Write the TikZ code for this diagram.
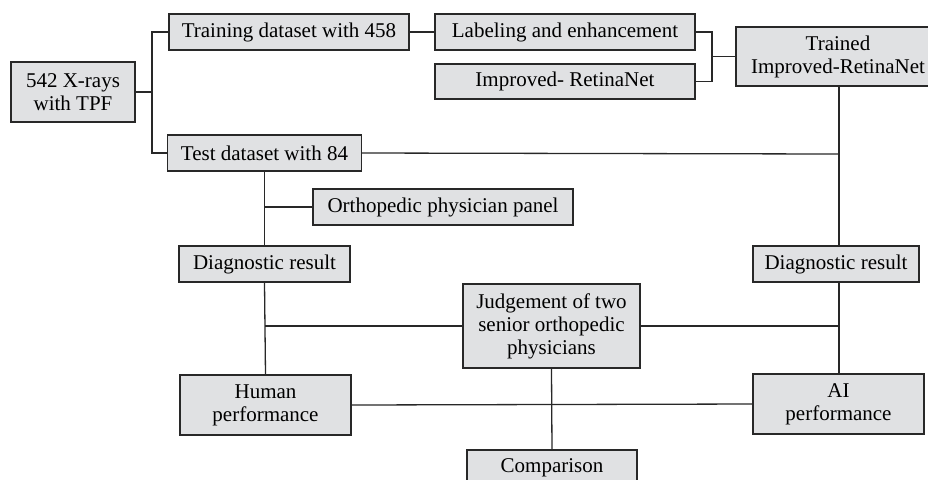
\documentclass[tikz,border=0pt]{standalone}
\usepackage{fontspec}
\setmainfont{Liberation Serif}
\usepackage{xcolor}
\usepackage{tikz}
\usetikzlibrary{calc}

\definecolor{boxgray}{RGB}{224,225,227}
\definecolor{linegray}{RGB}{40,40,40}

\begin{document}
\begin{tikzpicture}[
  x=0.5pt, y=-0.5pt,
  gbox/.style={draw=linegray, line width=0.65pt, fill=boxgray, align=center,
               inner sep=0pt, font=\fontsize{10.5}{11.5}\selectfont},
  link/.style={draw=linegray, line width=0.65pt}
]
\useasboundingbox (0,0) rectangle (928,479);

\node[gbox, minimum width=62pt, minimum height=30pt] (xrays) at (73,92) {542 X-rays\\with TPF};
\node[gbox, minimum width=120pt, minimum height=18pt] (train) at (289,32) {Training dataset with 458};
\node[gbox, minimum width=97pt, minimum height=18pt] (test) at (264.5,153) {Test dataset with 84};
\node[gbox, minimum width=130pt, minimum height=18pt] (label) at (565,32) {Labeling and enhancement};
\node[gbox, minimum width=130pt, minimum height=17.5pt] (improved) at (565,81.5) {Improved- RetinaNet};
\node[gbox, minimum width=102pt, minimum height=29.5pt] (trained) at (838,56.5) {Trained\\Improved-RetinaNet};
\node[gbox, minimum width=130pt, minimum height=18pt] (panel) at (443,207) {Orthopedic physician panel};
\node[gbox, minimum width=85.5pt, minimum height=18pt] (diagL) at (264.5,264) {Diagnostic result};
\node[gbox, minimum width=83pt, minimum height=18pt] (diagR) at (836,264) {Diagnostic result};
\node[gbox, minimum width=88.5pt, minimum height=42pt] (judge) at (551.5,326) {Judgement of two\\senior orthopedic\\physicians};
\node[gbox, minimum width=85.5pt, minimum height=30pt] (human) at (265.5,405) {Human\\performance};
\node[gbox, minimum width=85.5pt, minimum height=30pt] (ai) at (838.5,404) {AI\\performance};
\node[gbox, minimum width=85pt, minimum height=18pt] (comp) at (552,468) {Comparison};

% splits
\coordinate (s1) at (152,92);
\coordinate (s2) at (712,56.5);
\coordinate (c1) at (839,154);

\draw[link] (xrays.east) -- (s1);
\draw[link] (train.west) -| (s1) |- (test.west);
\draw[link] (train.east) -- (label.west);
\draw[link] (label.east) -| (s2) |- (improved.east);
\draw[link] (s2) -- (trained.west);
\draw[link] (trained.south -| c1) -- (diagR.north -| c1);
\draw[link] (test.east) -- (c1);
\draw[link] (test.south) -- (diagL.north);
\draw[link] (panel.west) -- (panel.west -| test.south);
\draw[link] (diagL.south) -- (human.north);
\draw[link] (judge.west) -- (judge.west -| diagL.south);
\draw[link] (judge.east) -- (judge.east -| c1);
\draw[link] (diagR.south -| c1) -- (ai.north -| c1);
\draw[link] (human.east) -- (ai.west);
\draw[link] (judge.south) -- (comp.north);
\end{tikzpicture}
\end{document}
